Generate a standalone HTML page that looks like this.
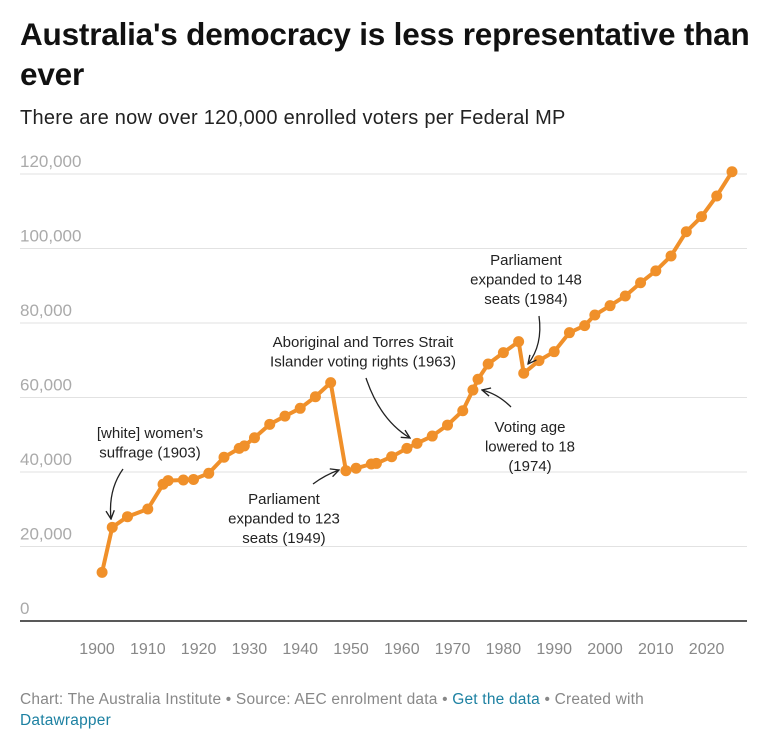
<!DOCTYPE html>
<html><head><meta charset="utf-8"><style>
body{margin:0;background:#fff;width:767px;height:751px;overflow:hidden;font-family:"Liberation Sans",sans-serif}
h1{position:absolute;left:20px;top:14px;margin:0;width:745px;font-size:31.5px;line-height:40px;font-weight:bold;color:#111;letter-spacing:-0.2px}
.sub{position:absolute;left:20px;top:107px;font-size:20px;color:#222;letter-spacing:0.25px}
.foot{position:absolute;left:20px;top:689px;font-size:15.5px;line-height:21px;color:#888;width:665px;letter-spacing:0.2px}
.foot a{color:#1d81a2;text-decoration:none}
svg{position:absolute;left:0;top:0}
</style></head><body>
<h1>Australia's democracy is less representative than ever</h1>
<div class="sub">There are now over 120,000 enrolled voters per Federal MP</div>
<svg id="chart" width="767" height="751"></svg>
<div class="foot">Chart: The Australia Institute • Source: AEC enrolment data • <a>Get the data</a> • Created with <a>Datawrapper</a></div>
<script>
const years=[1901,1903,1906,1910,1913,1914,1917,1919,1922,1925,1928,1929,1931,1934,1937,1940,1943,1946,1949,1951,1954,1955,1958,1961,1963,1966,1969,1972,1974,1975,1977,1980,1983,1984,1987,1990,1993,1996,1998,2001,2004,2007,2010,2013,2016,2019,2022,2025];
const voters=[13070,25150,28000,30060,36700,37700,37850,38000,39650,43950,46350,47000,49200,52800,55000,57100,60200,64000,40350,41000,42150,42300,44100,46350,47700,49650,52600,56450,62000,64900,69000,72050,75000,66500,69900,72300,77400,79300,82150,84650,87250,90800,94000,98000,104500,108550,114100,120600];
const yTicks=[0,20000,40000,60000,80000,100000,120000];
const xTicks=[1900,1910,1920,1930,1940,1950,1960,1970,1980,1990,2000,2010,2020];
const NS="http://www.w3.org/2000/svg";
const svg=document.getElementById('chart');
const X=y=>97+(y-1900)*5.08;
const Y=v=>621-v/20000*74.5;
function mk(t,a,p){const e=document.createElementNS(NS,t);for(const k in a)e.setAttribute(k,a[k]);(p||svg).appendChild(e);return e;}
yTicks.forEach(v=>{
 if(v>0){const l=mk('line',{x1:20,x2:747,y1:Y(v),y2:Y(v),stroke:'#e2e2e2','stroke-width':1});
 
 }
 const t=mk('text',{x:20,y:Y(v)-7,'font-size':17,fill:'#aaa'});
 t.textContent=v.toLocaleString('en-US');
 
 
});
const base=mk('line',{x1:20,x2:747,y1:621,y2:621,stroke:'#222','stroke-width':1.5});


xTicks.forEach(y=>{
 const t=mk('text',{x:X(y),y:654,'font-size':16,fill:'#888','text-anchor':'middle'});
 t.textContent=y;
 
 
});
const pts=years.map((y,i)=>X(y)+','+Y(voters[i])).join(' ');
const pl=mk('polyline',{points:pts,fill:'none',stroke:'#f0902a','stroke-width':4,'stroke-linejoin':'round'});


years.forEach((y,i)=>{
 const c=mk('circle',{cx:X(y),cy:Y(voters[i]),r:5.5,fill:'#f0902a'});
 
 
});
mk('defs',{}).innerHTML='<marker id="ah" viewBox="0 0 10 10" refX="9" refY="5" markerWidth="8" markerHeight="8" orient="auto"><path d="M1,1 L9,5 L1,9" fill="none" stroke="#222" stroke-width="1.3"/></marker>';
function note(lines,x,y0,name){
 const t=mk('text',{'font-size':15,fill:'#222','text-anchor':'middle'});
 
 
 lines.forEach((s,i)=>{const ts=mk('tspan',{x:x,y:y0+i*19.5},t);ts.textContent=s;});
}
function arrow(d,name){const p=mk('path',{d:d,fill:'none',stroke:'#222','stroke-width':1.3,'marker-end':'url(#ah)'});
 
 }
note(["[white] women's","suffrage (1903)"],150,438,'annotation-suffrage');
arrow("M123,469 Q108,490 111,519",'arrow-suffrage');
note(["Parliament","expanded to 123","seats (1949)"],284,504,'annotation-1949');
arrow("M313,484 Q325,475 339,470",'arrow-1949');
note(["Aboriginal and Torres Strait","Islander voting rights (1963)"],363,347,'annotation-1963');
arrow("M366,378 Q380,420 410,438",'arrow-1963');
note(["Parliament","expanded to 148","seats (1984)"],526,265,'annotation-1984');
arrow("M539,316 Q543,345 528,364",'arrow-1984');
note(["Voting age","lowered to 18","(1974)"],530,432,'annotation-1974');
arrow("M511,407 Q498,394 482,390",'arrow-1974');
</script>
</body></html>
